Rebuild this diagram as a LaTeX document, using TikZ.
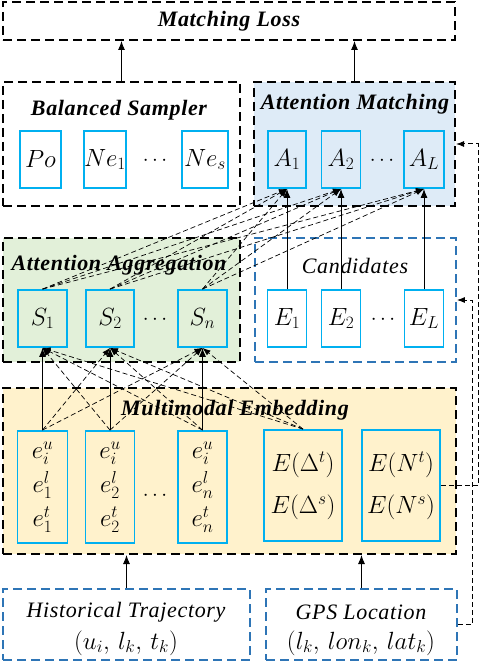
\documentclass[tikz,border=0pt]{standalone}
\usepackage{fontspec}
\setmainfont{Liberation Serif}
\newfontfamily\titlefont[LetterSpace=3.0]{Liberation Serif}
\usetikzlibrary{arrows.meta}
\definecolor{cellcyan}{RGB}{0,176,240}
\definecolor{groupblue}{RGB}{46,117,182}
\definecolor{matchblue}{RGB}{222,235,247}
\definecolor{aggrgreen}{RGB}{226,240,217}
\definecolor{embedyellow}{RGB}{255,242,204}

\begin{document}
\begin{tikzpicture}[
    x=1pt, y=-1pt,
    group/.style={rectangle, draw=black, dash pattern=on 9pt off 5pt, line width=2pt, inner sep=0pt},
    inputgroup/.style={rectangle, draw=groupblue, dash pattern=on 9pt off 5pt, line width=1.7pt, inner sep=0pt},
    title/.style={font=\titlefont\fontsize{22}{26}\selectfont\bfseries\itshape},
    plaintitle/.style={font=\titlefont\fontsize{22}{26}\selectfont\itshape},
    cell/.style={rectangle, draw=cellcyan, line width=1.8pt, minimum height=57pt, inner sep=0pt, font=\fontsize{23}{27}\selectfont},
    stack/.style={cell, minimum width=49pt, minimum height=112pt, align=center, font=\fontsize{23}{34}\selectfont},
    arrow/.style={-{Latex[length=9pt, width=7pt]}, line width=0.9pt},
    link/.style={-{Latex[length=8pt, width=6pt]}, dash pattern=on 5pt off 3pt, line width=0.7pt},
]
\useasboundingbox (0,0) rectangle (480,668);

% Group boxes
\node[group, minimum width=452pt, minimum height=38pt] (loss) at (229, 21) {};
\node[group, minimum width=237pt, minimum height=124pt] (sampler) at (121.5, 144) {};
\node[group, fill=matchblue, minimum width=201pt, minimum height=124pt] (matching) at (354.5, 144) {};
\node[group, fill=aggrgreen, minimum width=237pt, minimum height=124pt] (aggregation) at (121.5, 300) {};
\node[inputgroup, minimum width=201pt, minimum height=124pt] (candidates) at (355.5, 300) {};
\node[group, fill=embedyellow, minimum width=453pt, minimum height=166pt] (embedding) at (229.5, 471) {};
\node[inputgroup, minimum width=247pt, minimum height=71pt] (history) at (126.5, 624.5) {};
\node[inputgroup, minimum width=191pt, minimum height=71pt] (gps) at (361.5, 624.5) {};

% Titles
\node[title] at (229, 21) {Matching Loss};
\node[title] at (119, 110) {Balanced Sampler};
\node[title] at (355, 104) {Attention Matching};
\node[title] at (119, 265) {Attention Aggregation};
\node[plaintitle] at (355, 266) {Candidates};
\node[title] at (235, 410) {Multimodal Embedding};
\node[plaintitle] at (126, 612) {Historical Trajectory};
\node[font=\fontsize{23}{27}\selectfont] at (126, 643) {$(u_i,\, l_k,\, t_k)$};
\node[plaintitle] at (361, 612) {GPS Location};
\node[font=\fontsize{23}{27}\selectfont] at (361, 643) {$(l_k,\, lon_k,\, lat_k)$};

% Balanced sampler cells
\node[cell, minimum width=41pt] (po) at (40.5, 159.5) {$Po$};
\node[cell, minimum width=42pt] (ne1) at (105, 159.5) {$Ne_1$};
\node[font=\fontsize{20}{24}\selectfont] at (155, 161) {$\cdots$};
\node[cell, minimum width=46pt] (nes) at (205, 159.5) {$Ne_s$};

% Attention matching cells
\node[cell, minimum width=38pt] (a1) at (287, 159.5) {$A_1$};
\node[cell, minimum width=39pt] (a2) at (341, 159.5) {$A_2$};
\node[font=\fontsize{20}{24}\selectfont] at (382, 161) {$\cdots$};
\node[cell, minimum width=40pt] (aL) at (424, 159.5) {$A_L$};

% Attention aggregation cells
\node[cell, minimum width=49pt] (s1) at (42.5, 318.5) {$S_1$};
\node[cell, minimum width=48pt] (s2) at (110, 318.5) {$S_2$};
\node[font=\fontsize{20}{24}\selectfont] at (155, 320) {$\cdots$};
\node[cell, minimum width=49pt] (sn) at (202.5, 318.5) {$S_n$};

% Candidate cells
\node[cell, minimum width=39pt] (e1) at (287, 318.5) {$E_1$};
\node[cell, minimum width=39pt] (e2) at (341, 318.5) {$E_2$};
\node[font=\fontsize{20}{24}\selectfont] at (383, 320) {$\cdots$};
\node[cell, minimum width=39pt] (eL) at (424, 318.5) {$E_L$};

% Multimodal embedding cells
\node[stack, minimum width=50pt] (emb1) at (42.5, 487) {$e_i^u$\\$e_1^l$\\$e_1^t$};
\node[stack] (emb2) at (110, 487) {$e_i^u$\\$e_2^l$\\$e_2^t$};
\node[font=\fontsize{20}{24}\selectfont] at (155, 496) {$\cdots$};
\node[stack] (embn) at (202.5, 487) {$e_i^u$\\$e_n^l$\\$e_n^t$};
\node[cell, minimum width=78pt, minimum height=111pt, align=center, font=\fontsize{23}{42}\selectfont] (delta) at (303, 485.5) {$E(\Delta^t)$\\$E(\Delta^s)$};
\node[cell, minimum width=78pt, minimum height=111pt, align=center, font=\fontsize{23}{42}\selectfont] (count) at (401, 485.5) {$E(N^t)$\\$E(N^s)$};

% Inputs into embedding and outputs into loss
\draw[arrow] (history) -- (history |- embedding.south);
\draw[arrow] (gps) -- (gps |- embedding.south);
\draw[arrow] (sampler) -- (sampler |- loss.south);
\draw[arrow] (matching) -- (matching |- loss.south);

% Embeddings to aggregation
\draw[arrow] (emb1.north) -- (s1.south);
\draw[arrow] (emb2.north) -- (s2.south);
\draw[arrow] (embn.north) -- (sn.south);
\draw[link] (emb1.north) -- (s2.south);
\draw[link] (emb1.north) -- (sn.south);
\draw[link] (emb2.north) -- (s1.south);
\draw[link] (emb2.north) -- (sn.south);
\draw[link] (embn.north) -- (s1.south);
\draw[link] (embn.north) -- (s2.south);
\draw[link] (delta.north) -- (s1.south);
\draw[link] (delta.north) -- (s2.south);
\draw[link] (delta.north) -- (sn.south);

% Aggregation to matching
\draw[link] (s1.north) -- (a1.south);
\draw[link] (s1.north) -- (a2.south);
\draw[link] (s1.north) -- (aL.south);
\draw[link] (s2.north) -- (a1.south);
\draw[link] (s2.north) -- (a2.south);
\draw[link] (s2.north) -- (aL.south);
\draw[link] (sn.north) -- (a1.south);
\draw[link] (sn.north) -- (a2.south);
\draw[link] (sn.north) -- (aL.south);

% Candidates to matching
\draw[arrow] (e1.north) -- (a1.south);
\draw[arrow] (e2.north) -- (a2.south);
\draw[arrow] (eL.north) -- (aL.south);

% Side feedback
\coordinate (countturn) at (478, 485.5);
\coordinate (gpsturn) at (472, 624.5);
\draw[link, line width=1pt] (count.east) -- (countturn) |- (matching.east);
\draw[link, line width=1pt] (gps.east) -- (gpsturn) |- (candidates.east);

\end{tikzpicture}
\end{document}
